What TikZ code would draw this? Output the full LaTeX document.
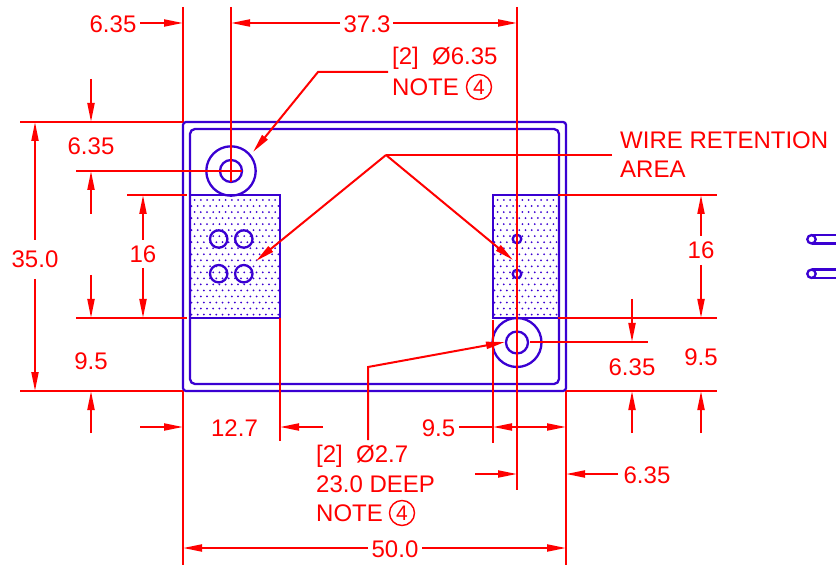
\documentclass[tikz,border=0pt]{standalone}
\usepackage{fontspec}
\usetikzlibrary{arrows.meta}
\setmainfont{Liberation Sans}
\definecolor{partblue}{RGB}{58,0,210}
\definecolor{dimred}{RGB}{255,0,0}
\tikzset{
  part/.style={draw=partblue, line width=2.3pt},
  dim/.style={draw=dimred, line width=2pt},
  tip/.style={dim, -{Triangle[length=19pt,width=7pt]}},
  label/.style={text=dimred, font=\fontsize{24}{29}\selectfont, inner sep=0pt},
  note/.style={label, anchor=west},
  notenum/.style={label, font=\fontsize{21}{25}\selectfont, circle, draw=dimred, line width=1.4pt, minimum size=25pt},
}
\begin{document}
\begin{tikzpicture}[x=1pt, y=-1pt]
  \useasboundingbox (0,0) rectangle (836,572);

  % hatched pads
  \begin{scope}
    \clip (190,195) rectangle (280,318);
    \foreach \r in {0,...,19} {
      \pgfmathsetmacro{\yy}{200+6.03*\r}
      \pgfmathsetmacro{\off}{mod(\r+1,2)*3.1}
      \foreach \c in {0,...,14} {
        \fill[partblue] ({191.5+\off+6.2*\c},\yy) circle [radius=1];
      }
    }
  \end{scope}
  \begin{scope}
    \clip (493,195) rectangle (559,318);
    \foreach \r in {0,...,19} {
      \pgfmathsetmacro{\yy}{200+6.03*\r}
      \pgfmathsetmacro{\off}{mod(\r+1,2)*3.1}
      \foreach \c in {0,...,10} {
        \fill[partblue] ({494.5+\off+6.2*\c},\yy) circle [radius=1];
      }
    }
  \end{scope}

  % body
  \draw[part] (183,122) [rounded corners=3] rectangle (566,391);
  \draw[part] (190,129) [rounded corners=5] rectangle (559,384);
  \draw[part] (190,195) rectangle (280,318);
  \draw[part] (493,195) rectangle (559,318);

  % holes
  \draw[part] (231,171) circle [radius=24.7];
  \draw[part] (231,171) circle [radius=11];
  \draw[part] (517,342.5) circle [radius=24.5];
  \draw[part] (517,342.5) circle [radius=11];
  \draw[part] (218.7,239) circle [radius=8.7];
  \draw[part] (243.8,239) circle [radius=8.7];
  \draw[part] (218.7,273.7) circle [radius=8.7];
  \draw[part] (243.8,273.7) circle [radius=8.7];
  \draw[part] (517,239) circle [radius=4.3];
  \draw[part] (517,274) circle [radius=4.3];

  % side view stubs
  \draw[part] (811.5,239.3) circle [radius=4.2];
  \draw[part] (811.5,235) -- (836,235);
  \draw[part] (811.5,243.5) -- (836,243.5);
  \draw[part] (811.5,273.8) circle [radius=4.2];
  \draw[part] (811.5,269.5) -- (836,269.5);
  \draw[part] (811.5,278) -- (836,278);

  % extension lines
  \draw[dim] (183,7) -- (183,122);
  \draw[dim] (231,7) -- (231,182);
  \draw[dim] (517,7) -- (517,490);
  \draw[dim] (183,391) -- (183,565);
  \draw[dim] (566,391) -- (566,565);
  \draw[dim] (280,318) -- (280,441);
  \draw[dim] (493,320) -- (493,443);
  \draw[dim] (20,122) -- (183,122);
  \draw[dim] (76,171) -- (242,171);
  \draw[dim] (127,195) -- (187,195);
  \draw[dim] (76,318) -- (187,318);
  \draw[dim] (20,391) -- (183,391);
  \draw[dim] (558,195) -- (717,195);
  \draw[dim] (558,318) -- (717,318);
  \draw[dim] (530,342) -- (648,342);
  \draw[dim] (566,391) -- (717,391);

  % top dimensions
  \node[label] (topleft) at (113,24) {6.35};
  \draw[tip] (140,23) -- (183,23);
  \node[label] (toppitch) at (367,24) {37.3};
  \draw[tip] (340,23) -- (231,23);
  \draw[tip] (393,23) -- (517,23);

  % left dimensions
  \node[label] (lefttop) at (91,146) {6.35};
  \draw[tip] (91,79) -- (91,122);
  \draw[tip] (91,214) -- (91,171);
  \node[label] (leftheight) at (35,259) {35.0};
  \draw[tip] (35,240) -- (35,122);
  \draw[tip] (35,279) -- (35,391);
  \node[label] (leftpad) at (143,254) {16};
  \draw[tip] (143,240) -- (143,195);
  \draw[tip] (143,268) -- (143,318);
  \node[label] (leftlow) at (91,361) {9.5};
  \draw[tip] (91,275) -- (91,318);
  \draw[tip] (91,433) -- (91,391);

  % right dimensions
  \node[label] (rightpad) at (701,250) {16};
  \draw[tip] (701,236) -- (701,195);
  \draw[tip] (701,265) -- (701,318);
  \node[label] (rightlow) at (701,357) {9.5};
  \draw[tip] (701,433) -- (701,391);
  \node[label] (righthole) at (632,367) {6.35};
  \draw[tip] (632,299) -- (632,342);
  \draw[tip] (632,433) -- (632,391);

  % bottom dimensions
  \draw[tip] (140,427) -- (183,427);
  \node[label] (padwidth) at (234.5,428) {12.7};
  \draw[tip] (323,427) -- (280,427);
  \node[label] (padright) at (438.5,428) {9.5};
  \draw[dim] (459,427) -- (493,427);
  \draw[tip] (530,427) -- (493,427);
  \draw[tip] (530,427) -- (566,427);
  \draw[tip] (475,474) -- (517,474);
  \node[label] (holeright) at (647,475) {6.35};
  \draw[tip] (618,474) -- (566,474);
  \node[label] (width) at (395,549) {50.0};
  \draw[tip] (368,548) -- (183,548);
  \draw[tip] (422,548) -- (566,548);

  % notes
  \node[note] (mountA) at (392,58) {[2]\ \ Ø6.35};
  \node[note] (mountB) at (392,87) {NOTE};
  \node[notenum] (mountnum) at (479,87) {4};
  \draw[tip] (388,72) -- (318,72) -- (253,152);
  \node[note] (wireA) at (620,140) {WIRE RETENTION};
  \node[note] (wireB) at (620,169) {AREA};
  \draw[dim] (612,155) -- (386,155);
  \draw[tip] (386,155) -- (256,261);
  \draw[tip] (386,155) -- (513,260);
  \node[note] (pinA) at (316,456) {[2]\ \ Ø2.7};
  \node[note] (pinB) at (316,484) {23.0 DEEP};
  \node[note] (pinC) at (316,513) {NOTE};
  \node[notenum] (pinnum) at (402,513) {4};
  \draw[tip] (368,440) -- (368,367) -- (505,342);
\end{tikzpicture}
\end{document}
